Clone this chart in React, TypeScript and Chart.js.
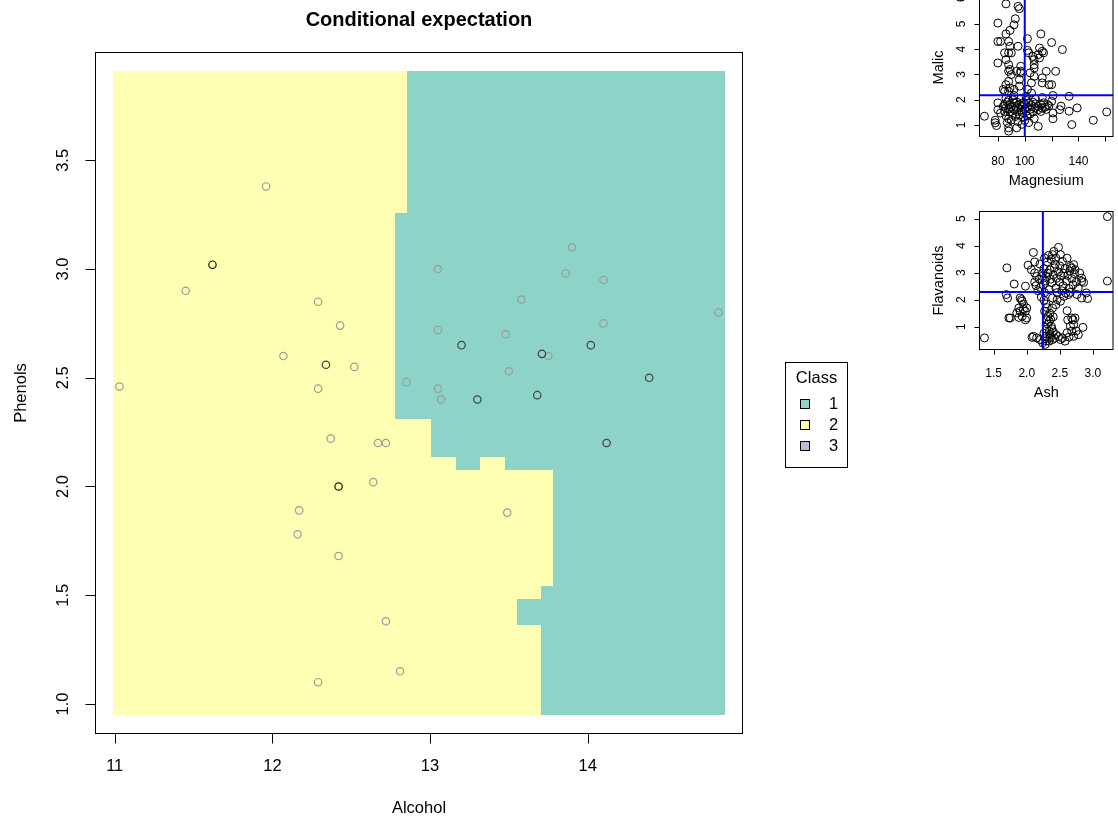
import React, { useEffect, useRef } from "react";
import { Chart, registerables } from "chart.js";
Chart.register(...registerables);

const FONT = '"Liberation Sans", Arial, Helvetica, sans-serif';

// ---------------- main plot data ----------------
const mainTitle = "Conditional expectation";
const alcoholTicks = [11, 12, 13, 14];
const alcoholTickLabels = ["11", "12", "13", "14"];
const phenolsTicks = [1.0, 1.5, 2.0, 2.5, 3.0, 3.5];
const phenolsTickLabels = ["1.0", "1.5", "2.0", "2.5", "3.0", "3.5"];
const alcoholRange = [10.878, 14.982];
const phenolsRange = [0.864, 3.996];

// prediction grid extent and class-2 (yellow) bands; rest of grid is class 1
const gridAlcohol = [10.991, 14.869];
const gridPhenols = [0.9504, 3.9094];
const bandLow = [0.9504, 1.365, 1.483, 1.542, 2.075, 2.134, 2.312, 3.258];
const bandHigh = [1.365, 1.483, 1.542, 2.075, 2.134, 2.312, 3.258, 3.9094];
const bandEdge = [13.705, 13.55, 13.705, 13.783, 13.162, 13.007, 12.775, 12.852];
const islandAlcohol = [13.318, 13.473];
const islandPhenols = [2.075, 2.134];

const lightAlcohol = [11.03, 12.29, 12.85, 13.05, 13.07, 12.37, 12.67, 12.72, 12.64, 12.17, 13.49, 12.16, 12.42, 12.72, 12.81, 12.29, 13.9, 13.05, 13.86, 14.1, 13.58, 14.83, 13.05, 13.48, 14.1, 13.75, 13.5, 11.96, 11.45, 12.29, 12.43, 12.07, 12.52];
const lightPhenols = [2.46, 2.45, 2.48, 2.45, 2.4, 2.22, 2.2, 2.2, 2.02, 1.89, 1.88, 1.78, 1.68, 1.38, 1.15, 1.1, 3.1, 3.0, 2.98, 2.95, 2.86, 2.8, 2.72, 2.7, 2.75, 2.6, 2.53, 3.38, 2.9, 2.85, 2.74, 2.6, 2.55];
const darkAlcohol = [13.3, 13.68, 13.2, 14.02, 13.71, 14.39, 14.12, 12.34];
const darkPhenols = [2.4, 2.42, 2.65, 2.65, 2.61, 2.5, 2.2, 2.56];
const blackAlcohol = [11.62, 12.42];
const blackPhenols = [3.02, 2.0];

const legendTitle = "Class";
const classLabels = ["1", "2", "3"];
const classColors = ["#8DD3C7", "#FFFFB3", "#BEBADA"];

// ---------------- small plot 1: Malic vs Magnesium ----------------
const magnesiumRange = [66.32, 165.68];
const malicRange = [0.5376, 6.0024];
const magnesiumTicks = [80, 100, 120, 140, 160];
const magnesiumTickLabels = ["80", "100", "", "140", ""];
const malicTicks = [1, 2, 3, 4, 5, 6];
const malicTickLabels = ["1", "2", "3", "4", "5", "6"];
const magnesiumCut = 100;
const malicCut = 2.17;
const magnesiumMalic: [number, number][] = [
  [86, 5.79], [95, 5.69], [96, 5.6], [93, 5.2], [92, 4.96], [80, 5.03], [89, 4.74], [86, 4.6], [102, 4.41], [112, 4.6],
  [120, 4.26], [128, 3.98], [80, 4.3], [82, 4.3], [88, 4.3], [89, 4.11], [95, 4.11], [102, 3.95], [103, 3.85], [111, 4.04],
  [113, 3.91], [114, 3.85], [85, 3.85], [88, 3.85], [90, 3.85], [80, 3.45], [86, 3.58], [88, 3.38], [89, 3.19], [106, 3.71],
  [107, 3.58], [107, 3.38], [107, 3.25], [97, 3.32], [97, 3.12], [111, 3.65], [110, 3.78], [116, 3.12], [123, 3.12], [94, 3.12],
  [88, 3.12], [90, 2.99], [97, 3.06], [104, 3.06], [107, 2.92], [105, 2.66], [113, 2.86], [113, 2.66], [118, 2.59], [120, 2.59],
  [88, 2.72], [86, 2.59], [89, 2.46], [88, 2.33], [85, 2.33], [96, 2.79], [96, 2.53], [92, 2.4], [102, 2.4], [105, 2.26],
  [121, 2.16], [133, 2.13], [84, 2.4],
  [70, 1.34], [78, 1.18], [78, 1.08], [79, 0.97], [80, 1.87], [80, 1.6], [82, 1.47], [88, 0.88], [88, 0.75], [94, 0.88],
  [110, 0.94], [135, 1.01], [151, 1.18], [161, 1.51], [139, 1.67], [133, 1.54], [127, 1.74], [126, 1.6], [121, 1.47], [121, 1.24],
  [114, 1.87], [117, 1.8], [120, 1.93],
  [84, 1.73], [85, 1.81], [85, 1.53], [86, 1.35], [86, 1.67], [87, 1.9], [87, 1.09], [88, 1.63], [88, 1.97], [88, 1.24],
  [89, 1.51], [89, 1.81], [90, 1.71], [90, 1.19], [91, 1.41], [91, 1.99], [92, 1.61], [92, 1.87], [93, 1.33], [93, 1.73],
  [94, 1.53], [94, 1.9], [95, 1.13], [95, 1.68], [96, 1.81], [96, 1.39], [97, 1.6], [97, 2.05], [98, 1.5], [98, 1.73],
  [98, 1.02], [99, 1.88], [99, 1.29], [100, 1.64], [100, 1.81], [100, 1.17], [101, 1.53], [101, 1.97], [102, 1.71], [102, 1.35],
  [103, 1.87], [103, 1.09], [104, 1.61], [104, 1.43], [105, 1.77], [106, 1.9], [106, 1.51], [107, 1.25], [108, 1.68], [108, 1.83],
  [110, 1.6], [110, 1.73], [112, 1.53], [112, 1.81], [113, 1.66], [115, 1.7], [116, 1.61], [118, 1.75], [92, 2.16], [86, 2.05],
  [108, 2.02], [113, 2.08], [101, 2.13],
];

// ---------------- small plot 2: Flavanoids vs Ash ----------------
const ashRange = [1.2852, 3.3048];
const flavRange = [0.1504, 5.2696];
const ashTicks = [1.5, 2.0, 2.5, 3.0];
const ashTickLabels = ["1.5", "2.0", "2.5", "3.0"];
const flavTicks = [1, 2, 3, 4, 5];
const flavTickLabels = ["1", "2", "3", "4", "5"];
const ashCut = 2.244;
const flavCut = 2.285;
const ashFlav: [number, number][] = [
  [1.36, 0.58], [1.7, 3.18], [1.69, 2.19], [1.71, 2.06], [1.81, 2.58], [1.73, 1.32], [1.98, 2.5], [2.02, 3.28], [2.1, 3.75], [2.12, 3.4],
  [3.22, 5.08], [3.22, 2.69], [2.92, 2.04], [2.07, 3.11], [2.12, 2.99], [2.15, 2.86], [2.27, 3.54], [2.39, 3.67], [2.41, 3.79], [2.48, 3.94],
  [2.44, 3.54], [2.51, 3.67], [2.54, 3.42], [2.61, 3.54], [2.66, 3.23], [2.68, 3.17], [2.71, 3.3], [2.73, 3.11], [2.8, 2.99], [2.83, 2.8],
  [2.83, 2.68], [2.86, 2.64],
  [1.9, 2.06], [1.93, 1.94], [1.95, 1.84], [1.88, 1.69], [1.9, 1.57], [1.85, 1.51], [1.98, 1.57], [1.93, 1.38], [2.0, 1.32], [1.75, 1.32],
  [1.88, 1.34], [1.92, 2.0], [1.98, 1.25], [1.95, 1.64], [2.0, 1.69],
  [2.1, 0.64], [2.15, 0.58], [2.2, 0.52], [2.24, 0.4], [2.08, 0.6], [2.61, 1.59], [2.68, 1.32], [2.73, 1.32], [2.71, 1.07], [2.66, 1.01],
  [2.68, 0.83], [2.61, 0.77], [2.85, 0.97], [2.78, 0.7], [2.71, 0.64], [2.54, 0.58], [2.58, 0.46], [2.51, 0.52], [2.44, 0.7], [2.39, 0.52],
  [2.34, 0.46], [2.62, 1.25], [2.7, 1.25], [2.75, 0.84], [2.64, 0.61], [2.48, 0.63], [2.28, 0.34], [2.3, 0.47], [2.36, 0.6], [2.28, 0.55],
  [2.42, 0.57],
  [2.27, 1.57], [2.32, 1.38], [2.34, 1.2], [2.37, 1.01], [2.34, 0.83], [2.29, 0.64], [2.39, 1.69], [2.44, 1.81], [2.46, 2.0], [2.39, 2.06],
  [2.51, 1.94], [2.56, 2.12], [2.63, 2.19], [2.76, 2.19], [2.9, 2.25], [2.83, 2.06], [2.3, 1.25], [2.36, 1.28], [2.32, 1.09], [2.38, 0.92],
  [2.3, 0.9], [2.26, 0.75], [2.4, 1.36], [2.35, 1.5], [2.31, 1.7], [2.29, 1.84], [2.26, 1.98], [2.22, 2.1], [2.35, 0.7], [2.4, 0.8],
  [2.17, 2.33], [2.21, 2.45], [2.25, 2.55], [2.28, 2.69], [2.3, 2.86], [2.32, 2.98], [2.35, 3.1], [2.36, 2.76], [2.38, 2.63], [2.4, 2.92],
  [2.42, 3.18], [2.44, 2.43], [2.45, 2.79], [2.48, 3.03], [2.5, 2.65], [2.5, 3.25], [2.52, 2.88], [2.55, 2.51], [2.56, 2.98], [2.58, 3.15],
  [2.6, 2.69], [2.62, 2.9], [2.64, 2.41], [2.65, 3.06], [2.68, 2.78], [2.7, 2.55], [2.72, 2.96], [2.75, 2.65], [2.78, 2.43], [2.19, 2.76],
  [2.24, 2.98], [2.26, 3.15], [2.2, 3.32], [2.31, 3.4], [2.27, 2.26], [2.34, 2.37], [2.14, 2.52], [2.12, 2.65], [2.46, 2.26], [2.53, 2.33],
  [2.59, 2.24], [2.33, 3.64], [2.37, 3.49], [2.23, 2.86], [2.66, 2.27], [2.43, 3.32],
];

// ---------------- helpers ----------------
const zipPts = (xs: number[], ys: number[]) => xs.map((x, i) => ({ x, y: ys[i] }));
const pairPts = (arr: [number, number][]) => arr.map(([x, y]) => ({ x, y }));

type RAxes = {
  xTicks: number[]; xTickLabels: string[];
  yTicks: number[]; yTickLabels: string[];
  tickLen: number; tickFont: string; labelFont: string;
  xLabelGap: number; xTitleGap: number; yLabelGap: number; yTitleGap: number;
  xTitle: string; yTitle: string;
};

function makeRPlugin(a: RAxes, under?: (c: any) => void, extra?: (c: any) => void) {
  return {
    id: "rstyle",
    beforeDatasetsDraw(chart: any) {
      if (under) under(chart);
    },
    afterDraw(chart: any) {
      const { ctx, chartArea: ca, scales } = chart;
      const xs = scales.x, ys = scales.y;
      ctx.save();
      ctx.strokeStyle = "#000";
      ctx.lineWidth = 1;
      ctx.strokeRect(ca.left, ca.top, ca.right - ca.left, ca.bottom - ca.top);
      ctx.beginPath();
      a.xTicks.forEach((v) => {
        const px = Math.round(xs.getPixelForValue(v)) + 0.5;
        ctx.moveTo(px, ca.bottom);
        ctx.lineTo(px, ca.bottom + a.tickLen);
      });
      a.yTicks.forEach((v) => {
        const py = Math.round(ys.getPixelForValue(v)) + 0.5;
        ctx.moveTo(ca.left, py);
        ctx.lineTo(ca.left - a.tickLen, py);
      });
      ctx.stroke();
      ctx.fillStyle = "#000";
      ctx.textAlign = "center";
      ctx.textBaseline = "middle";
      ctx.font = a.tickFont;
      a.xTicks.forEach((v, i) => {
        const t = a.xTickLabels[i];
        if (t) ctx.fillText(t, xs.getPixelForValue(v), ca.bottom + a.xLabelGap);
      });
      a.yTicks.forEach((v, i) => {
        const t = a.yTickLabels[i];
        if (t) {
          ctx.save();
          ctx.translate(ca.left - a.yLabelGap, ys.getPixelForValue(v));
          ctx.rotate(-Math.PI / 2);
          ctx.fillText(t, 0, 0);
          ctx.restore();
        }
      });
      ctx.font = a.labelFont;
      ctx.fillText(a.xTitle, (ca.left + ca.right) / 2, ca.bottom + a.xTitleGap);
      ctx.save();
      ctx.translate(ca.left - a.yTitleGap, (ca.top + ca.bottom) / 2);
      ctx.rotate(-Math.PI / 2);
      ctx.fillText(a.yTitle, 0, 0);
      ctx.restore();
      if (extra) extra(chart);
      ctx.restore();
    },
  };
}

function drawRegions(chart: any) {
  const { ctx, chartArea: ca, scales } = chart;
  const xs = scales.x, ys = scales.y;
  ctx.save();
  ctx.beginPath();
  ctx.rect(ca.left, ca.top, ca.right - ca.left, ca.bottom - ca.top);
  ctx.clip();
  const rect = (x0: number, x1: number, y0: number, y1: number, color: string) => {
    const a = Math.round(xs.getPixelForValue(x0));
    const b = Math.round(xs.getPixelForValue(x1));
    const c = Math.round(ys.getPixelForValue(y0));
    const d = Math.round(ys.getPixelForValue(y1));
    ctx.fillStyle = color;
    ctx.fillRect(Math.min(a, b), Math.min(c, d), Math.abs(b - a), Math.abs(d - c));
  };
  rect(gridAlcohol[0], gridAlcohol[1], gridPhenols[0], gridPhenols[1], classColors[0]);
  bandLow.forEach((lo, i) => rect(gridAlcohol[0], bandEdge[i], lo, bandHigh[i], classColors[1]));
  rect(islandAlcohol[0], islandAlcohol[1], islandPhenols[0], islandPhenols[1], classColors[1]);
  ctx.restore();
}

function drawMainExtras(chart: any) {
  const { ctx, chartArea: ca } = chart;
  ctx.save();
  ctx.fillStyle = "#000";
  ctx.textAlign = "center";
  ctx.textBaseline = "middle";
  ctx.font = `bold 20px ${FONT}`;
  ctx.fillText(mainTitle, (ca.left + ca.right) / 2, 20);
  // legend
  const lx = 785.5, ly = 362.5, lw = 62, lh = 105;
  ctx.strokeStyle = "#000";
  ctx.lineWidth = 1;
  ctx.strokeRect(lx, ly, lw, lh);
  ctx.font = `16.5px ${FONT}`;
  ctx.fillText(legendTitle, lx + lw / 2, 378);
  classLabels.forEach((lab, i) => {
    const cy = 404 + i * 21;
    ctx.fillStyle = classColors[i];
    ctx.fillRect(800.5, cy - 4.5, 9, 9);
    ctx.strokeRect(800.5, cy - 4.5, 9, 9);
    ctx.fillStyle = "#000";
    ctx.textAlign = "left";
    ctx.fillText(lab, 829, cy);
    ctx.textAlign = "center";
  });
  ctx.restore();
}

function scatterSet(data: any[], color: string, r: number, w: number) {
  return {
    type: "scatter" as const,
    data,
    showLine: false,
    pointStyle: "circle",
    pointRadius: r,
    pointBorderWidth: w,
    pointBorderColor: color,
    pointBackgroundColor: "rgba(0,0,0,0)",
  };
}

function cutLine(data: any[]) {
  return {
    type: "line" as const,
    data,
    borderColor: "#0000FF",
    borderWidth: 2,
    pointRadius: 0,
    fill: false,
  };
}

function baseOptions(pad: any, xr: number[], yr: number[]) {
  return {
    animation: false,
    responsive: false,
    events: [],
    layout: { padding: pad },
    scales: {
      x: { type: "linear", min: xr[0], max: xr[1], display: false },
      y: { type: "linear", min: yr[0], max: yr[1], display: false },
    },
    plugins: { legend: { display: false }, tooltip: { enabled: false } },
  } as any;
}

export default function App() {
  const mainRef = useRef<HTMLCanvasElement>(null);
  const s1Ref = useRef<HTMLCanvasElement>(null);
  const s2Ref = useRef<HTMLCanvasElement>(null);

  useEffect(() => {
    const charts: Chart[] = [];
    if (mainRef.current) {
      charts.push(
        new Chart(mainRef.current, {
          type: "scatter",
          data: {
            datasets: [
              scatterSet(zipPts(blackAlcohol, blackPhenols), "#111111", 3.7, 1.2),
              scatterSet(zipPts(darkAlcohol, darkPhenols), "#404040", 3.7, 1.2),
              scatterSet(zipPts(lightAlcohol, lightPhenols), "#9a9a9a", 3.7, 1.2),
            ] as any,
          },
          options: baseOptions({ left: 95.5, top: 52.5, right: 137.5, bottom: 87.5 }, alcoholRange, phenolsRange),
          plugins: [
            makeRPlugin(
              {
                xTicks: alcoholTicks, xTickLabels: alcoholTickLabels,
                yTicks: phenolsTicks, yTickLabels: phenolsTickLabels,
                tickLen: 10, tickFont: `16.5px ${FONT}`, labelFont: `16.5px ${FONT}`,
                xLabelGap: 33, xTitleGap: 75, yLabelGap: 32, yTitleGap: 74,
                xTitle: "Alcohol", yTitle: "Phenols",
              },
              drawRegions,
              drawMainExtras
            ),
          ],
        })
      );
    }
    if (s1Ref.current) {
      charts.push(
        new Chart(s1Ref.current, {
          type: "scatter",
          data: {
            datasets: [
              cutLine([{ x: magnesiumCut, y: malicRange[0] - 1 }, { x: magnesiumCut, y: malicRange[1] + 1 }]),
              cutLine([{ x: magnesiumRange[0] - 10, y: malicCut }, { x: magnesiumRange[1] + 10, y: malicCut }]),
              scatterSet(pairPts(magnesiumMalic), "#000000", 4, 1),
            ] as any,
          },
          options: baseOptions({ left: 79.5, top: 28.5, right: 0.5, bottom: 63.5 }, magnesiumRange, malicRange),
          plugins: [
            makeRPlugin({
              xTicks: magnesiumTicks, xTickLabels: magnesiumTickLabels,
              yTicks: malicTicks, yTickLabels: malicTickLabels,
              tickLen: 5, tickFont: `12px ${FONT}`, labelFont: `14.5px ${FONT}`,
              xLabelGap: 25, xTitleGap: 44.5, yLabelGap: 17.8, yTitleGap: 41,
              xTitle: "Magnesium", yTitle: "Malic",
            }),
          ],
        })
      );
    }
    if (s2Ref.current) {
      charts.push(
        new Chart(s2Ref.current, {
          type: "scatter",
          data: {
            datasets: [
              cutLine([{ x: ashCut, y: flavRange[0] - 1 }, { x: ashCut, y: flavRange[1] + 1 }]),
              cutLine([{ x: ashRange[0] - 1, y: flavCut }, { x: ashRange[1] + 1, y: flavCut }]),
              scatterSet(pairPts(ashFlav), "#000000", 4, 1),
            ] as any,
          },
          options: baseOptions({ left: 79.5, top: 11.5, right: 0.5, bottom: 60.5 }, ashRange, flavRange),
          plugins: [
            makeRPlugin({
              xTicks: ashTicks, xTickLabels: ashTickLabels,
              yTicks: flavTicks, yTickLabels: flavTickLabels,
              tickLen: 5, tickFont: `12px ${FONT}`, labelFont: `14.5px ${FONT}`,
              xLabelGap: 24.5, xTitleGap: 43, yLabelGap: 17.8, yTitleGap: 41,
              xTitle: "Ash", yTitle: "Flavanoids",
            }),
          ],
        })
      );
    }
    return () => charts.forEach((c) => c.destroy());
  }, []);

  return (
    <div style={{ position: "fixed", left: 0, top: 0, width: 1118, height: 821, background: "#fff", overflow: "hidden" }}>
      <canvas ref={mainRef} width={880} height={821} style={{ position: "absolute", left: 0, top: 0, width: 880, height: 821 }} />
      <canvas ref={s1Ref} width={218} height={230} style={{ position: "absolute", left: 900, top: -30, width: 218, height: 230 }} />
      <canvas ref={s2Ref} width={218} height={210} style={{ position: "absolute", left: 900, top: 200, width: 218, height: 210 }} />
    </div>
  );
}
